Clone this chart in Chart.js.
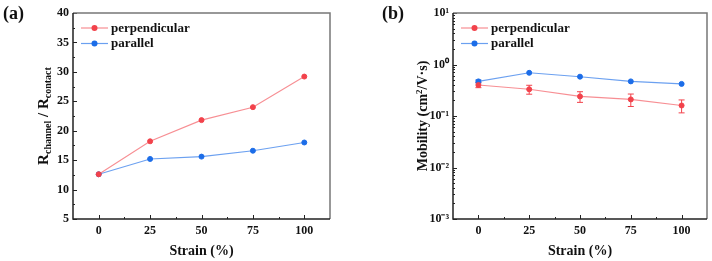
<!DOCTYPE html>
<html>
<head>
<meta charset="utf-8">
<script src="https://cdn.jsdelivr.net/npm/chart.js@4.4.0/dist/chart.umd.min.js"></script>
<style>
  html, body { margin: 0; padding: 0; background: #fff; }
  #wrap { position: relative; width: 712px; height: 261px; }
  canvas { position: absolute; top: 0; }
</style>
</head>
<body>
<div id="wrap">
  <canvas id="chartA" width="356" height="261" style="left:0"></canvas>
  <canvas id="chartB" width="356" height="261" style="left:356px"></canvas>
</div>
<script>
const strain = [0, 25, 50, 75, 100]
const ratioPerp = [12.6, 18.2, 21.8, 24.0, 29.2]
const ratioPara = [12.6, 15.2, 15.6, 16.6, 18.0]
const mobPerp = [0.40, 0.33, 0.24, 0.21, 0.16]
const mobPerpErr = [0.045, 0.065, 0.056, 0.057, 0.045]
const mobPara = [0.47, 0.69, 0.58, 0.47, 0.42]
const mobParaErr = [0.03, 0, 0, 0, 0]
const strainTicks = [0, 25, 50, 75, 100]
const ratioTicks = [5, 10, 15, 20, 25, 30, 35, 40]
const mobTicks = [0.001, 0.01, 0.1, 1, 10]
const mobTickLabels = ['10⁻³', '10⁻²', '10⁻¹', '10⁰', '10¹']

const SERIF = "'Liberation Serif', 'Times New Roman', serif"
const RED = '#f2424b'
const RED_LINE = 'rgba(242,66,75,0.6)'
const BLUE = '#1c6de8'
const BLUE_LINE = 'rgba(28,109,232,0.65)'

function pts(xs, ys) {
  return xs.map((x, i) => ({ x: x, y: ys[i] }))
}

// frame, inward ticks, error bars, legend and titles
const deco = {
  id: 'deco',
  beforeDatasetsDraw(chart) {
    const ctx = chart.ctx
    const xs = chart.scales.x, ys = chart.scales.y
    ctx.save()
    chart.data.datasets.forEach(ds => {
      if (!ds.err) return
      ctx.strokeStyle = ds.pointBackgroundColor
      ctx.lineWidth = 1
      ds.data.forEach((p, i) => {
        const e = ds.err[i]
        if (!e) return
        const x = xs.getPixelForValue(p.x)
        const y1 = ys.getPixelForValue(p.y + e)
        const y2 = ys.getPixelForValue(p.y - e)
        ctx.beginPath()
        ctx.moveTo(x, y1); ctx.lineTo(x, y2)
        ctx.moveTo(x - 3, y1); ctx.lineTo(x + 3, y1)
        ctx.moveTo(x - 3, y2); ctx.lineTo(x + 3, y2)
        ctx.stroke()
      })
    })
    ctx.restore()
  },
  afterDraw(chart, args, opts) {
    const ctx = chart.ctx
    const a = chart.chartArea
    const xs = chart.scales.x, ys = chart.scales.y
    ctx.save()

    // ticks pointing inward
    ctx.strokeStyle = '#222'
    ctx.lineWidth = 1
    ctx.beginPath()
    const xv = xs.ticks.map(t => t.value)
    xv.forEach((v, i) => {
      const x = Math.round(xs.getPixelForValue(v)) + 0.5
      ctx.moveTo(x, a.bottom); ctx.lineTo(x, a.bottom - 4)
      if (i < xv.length - 1) {
        const xm = Math.round(xs.getPixelForValue((v + xv[i + 1]) / 2)) + 0.5
        ctx.moveTo(xm, a.bottom); ctx.lineTo(xm, a.bottom - 2)
      }
    })
    const yv = ys.ticks.map(t => t.value)
    yv.forEach((v, i) => {
      const y = Math.round(ys.getPixelForValue(v)) + 0.5
      ctx.moveTo(a.left, y); ctx.lineTo(a.left + 4, y)
      if (i < yv.length - 1) {
        if (ys.type === 'logarithmic') {
          for (let m = 2; m <= 9; m++) {
            const ym = Math.round(ys.getPixelForValue(v * m)) + 0.5
            ctx.moveTo(a.left, ym); ctx.lineTo(a.left + 2, ym)
          }
        } else {
          const ym = Math.round(ys.getPixelForValue((v + yv[i + 1]) / 2)) + 0.5
          ctx.moveTo(a.left, ym); ctx.lineTo(a.left + 2, ym)
        }
      }
    })
    ctx.stroke()

    // frame
    ctx.lineWidth = 1.5
    ctx.strokeStyle = '#777'
    ctx.beginPath()
    ctx.moveTo(a.left, a.top); ctx.lineTo(a.right, a.top); ctx.lineTo(a.right, a.bottom)
    ctx.stroke()
    ctx.strokeStyle = '#222'
    ctx.beginPath()
    ctx.moveTo(a.left, a.top); ctx.lineTo(a.left, a.bottom); ctx.lineTo(a.right, a.bottom)
    ctx.stroke()

    // legend
    ctx.textBaseline = 'middle'
    ctx.textAlign = 'left'
    ctx.font = 'bold 13px ' + SERIF
    chart.data.datasets.forEach((ds, i) => {
      const y = opts.legendY + i * 15.5
      const x0 = opts.legendX
      ctx.strokeStyle = ds.borderColor
      ctx.lineWidth = 1.2
      ctx.beginPath()
      ctx.moveTo(x0, y); ctx.lineTo(x0 + 27, y)
      ctx.stroke()
      ctx.fillStyle = ds.pointBackgroundColor
      ctx.beginPath()
      ctx.arc(x0 + 13.5, y, 3, 0, Math.PI * 2)
      ctx.fill()
      ctx.fillStyle = '#111'
      ctx.fillText(ds.label, x0 + 30, y + 0.5)
    })

    // x title
    ctx.fillStyle = '#111'
    ctx.textAlign = 'center'
    ctx.textBaseline = 'alphabetic'
    ctx.font = 'bold 14px ' + SERIF
    ctx.fillText(opts.xTitle, (a.left + a.right) / 2, 255)

    // y title, rotated, with sub/superscripts
    ctx.save()
    ctx.translate(opts.yTitleX, (a.top + a.bottom) / 2)
    ctx.rotate(-Math.PI / 2)
    ctx.textAlign = 'left'
    let w = 0
    opts.yTitle.forEach(p => {
      ctx.font = 'bold ' + (p.sub || p.sup ? opts.smallSize : opts.bigSize) + 'px ' + SERIF
      w += ctx.measureText(p.t).width
    })
    let x = -w / 2
    opts.yTitle.forEach(p => {
      ctx.font = 'bold ' + (p.sub || p.sup ? opts.smallSize : opts.bigSize) + 'px ' + SERIF
      const dy = p.sub ? 3 : (p.sup ? -5 : 0)
      ctx.fillText(p.t, x, 5 + dy)
      x += ctx.measureText(p.t).width
    })
    ctx.restore()

    // panel label
    ctx.textAlign = 'left'
    ctx.font = 'bold 18px ' + SERIF
    ctx.fillText(opts.panel, opts.panelX, 19)

    ctx.restore()
  }
}

const tickFont = { family: SERIF, weight: 'bold', size: 12 }

function series(label, xs, ys, color, line, err) {
  return {
    label: label,
    data: pts(xs, ys),
    err: err,
    borderColor: line,
    borderWidth: 1.1,
    pointBackgroundColor: color,
    pointBorderColor: color,
    pointRadius: 2.5,
    pointBorderWidth: 1,
    tension: 0
  }
}

new Chart(document.getElementById('chartA'), {
  type: 'line',
  data: {
    datasets: [
      series('perpendicular', strain, ratioPerp, RED, RED_LINE),
      series('parallel', strain, ratioPara, BLUE, BLUE_LINE)
    ]
  },
  options: {
    responsive: false,
    animation: false,
    devicePixelRatio: 1,
    layout: { padding: { left: 0, top: 13, right: 26, bottom: 0 } },
    plugins: {
      legend: { display: false },
      tooltip: { enabled: false },
      deco: {
        legendX: 81, legendY: 28,
        xTitle: 'Strain (%)',
        yTitleX: 43,
        bigSize: 15, smallSize: 10,
        yTitle: [{ t: 'R' }, { t: 'channel', sub: true }, { t: ' / R' }, { t: 'contact', sub: true }],
        panel: '(a)', panelX: 3
      }
    },
    scales: {
      x: {
        type: 'linear', min: -12.5, max: 112.5,
        afterBuildTicks: s => { s.ticks = strainTicks.map(v => ({ value: v })) },
        afterFit: s => { s.height = 42 },
        grid: { display: false, drawTicks: false },
        border: { display: false },
        ticks: { padding: 5, font: tickFont, color: '#111', maxRotation: 0 }
      },
      y: {
        type: 'linear', min: 5, max: 40,
        afterBuildTicks: s => { s.ticks = ratioTicks.map(v => ({ value: v })) },
        afterFit: s => { s.width = 73 },
        grid: { display: false, drawTicks: false },
        border: { display: false },
        ticks: { padding: 4, font: tickFont, color: '#111' }
      }
    }
  },
  plugins: [deco]
})

new Chart(document.getElementById('chartB'), {
  type: 'line',
  data: {
    datasets: [
      series('perpendicular', strain, mobPerp, RED, RED_LINE, mobPerpErr),
      series('parallel', strain, mobPara, BLUE, BLUE_LINE, mobParaErr)
    ]
  },
  options: {
    responsive: false,
    animation: false,
    devicePixelRatio: 1,
    layout: { padding: { left: 0, top: 13, right: 3, bottom: 0 } },
    plugins: {
      legend: { display: false },
      tooltip: { enabled: false },
      deco: {
        legendX: 105, legendY: 28,
        xTitle: 'Strain (%)',
        yTitleX: 66,
        bigSize: 14, smallSize: 9,
        yTitle: [{ t: 'Mobility (cm' }, { t: '2', sup: true }, { t: '/V·s)' }],
        panel: '(b)', panelX: 26
      }
    },
    scales: {
      x: {
        type: 'linear', min: -12.5, max: 112.5,
        afterBuildTicks: s => { s.ticks = strainTicks.map(v => ({ value: v })) },
        afterFit: s => { s.height = 42 },
        grid: { display: false, drawTicks: false },
        border: { display: false },
        ticks: { padding: 5, font: tickFont, color: '#111', maxRotation: 0 }
      },
      y: {
        type: 'logarithmic', min: 0.001, max: 10,
        afterBuildTicks: s => { s.ticks = mobTicks.map(v => ({ value: v })) },
        afterFit: s => { s.width = 97 },
        grid: { display: false, drawTicks: false },
        border: { display: false },
        ticks: {
          padding: 4, font: tickFont, color: '#111', autoSkip: false,
          callback: (v) => mobTickLabels[mobTicks.indexOf(v)]
        }
      }
    }
  },
  plugins: [deco]
})
</script>
</body>
</html>
